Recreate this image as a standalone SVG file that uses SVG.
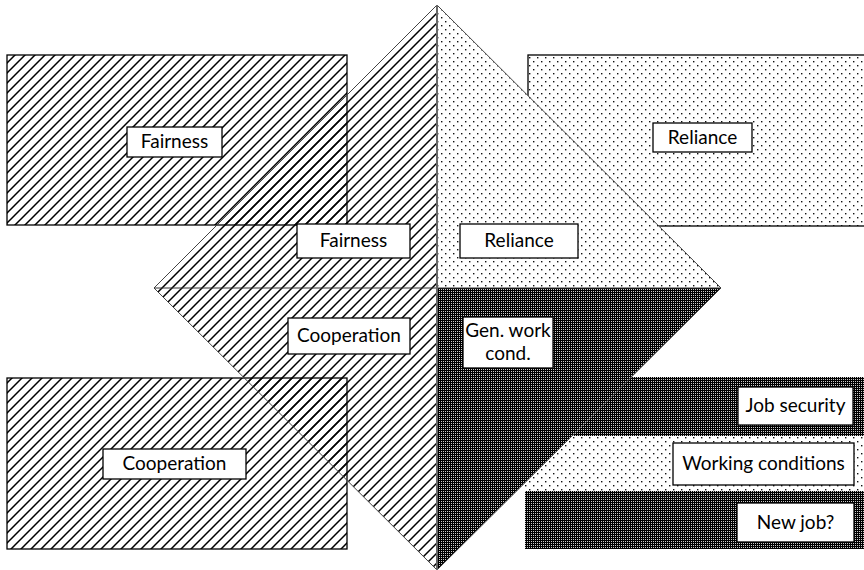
<svg xmlns="http://www.w3.org/2000/svg" width="864" height="570" viewBox="0 0 864 570">
<defs>
<pattern id="hatch" patternUnits="userSpaceOnUse" width="10" height="10">
<path d="M-2,2 L2,-2 M0,10 L10,0 M8,12 L12,8" stroke="#000" stroke-width="1.5"/>
</pattern>
<pattern id="dots" patternUnits="userSpaceOnUse" width="8" height="8">
<rect x="0" y="0" width="8" height="8" fill="#fff"/>
<rect x="1" y="1" width="1.4" height="1.4" fill="#111"/>
<rect x="5" y="5" width="1.4" height="1.4" fill="#111"/>
</pattern>
<pattern id="dark" patternUnits="userSpaceOnUse" width="2" height="2">
<rect x="0" y="0" width="2" height="2" fill="#000"/>
<rect x="1" y="1" width="1" height="1" fill="#ccc"/>
</pattern>
</defs>
<style>
.box{fill:#fff;stroke:#000;stroke-width:1.3}
.lbl{font-family:Lato,"Liberation Sans",sans-serif;font-size:19px;fill:#000;text-anchor:middle}
.area{stroke:#000;stroke-width:1.3}
</style>
<rect width="864" height="570" fill="#fff"/>

<g id="area-fairness">
<rect class="area" x="7" y="55" width="340" height="170" fill="url(#hatch)"/>
</g>
<g id="area-reliance">
<rect class="area" x="528" y="55" width="340" height="171" fill="url(#dots)"/>
</g>
<g id="area-cooperation">
<rect class="area" x="7" y="378" width="340" height="171" fill="url(#hatch)"/>
</g>
<g id="bar-job-security">
<rect x="525" y="377" width="345" height="59" fill="url(#dark)"/>
</g>
<g id="bar-working-conditions">
<rect x="525" y="436" width="345" height="55" fill="url(#dots)"/>
</g>
<g id="bar-new-job">
<rect x="525" y="491" width="345" height="58" fill="url(#dark)"/>
</g>

<g id="diamond">
<polygon points="437,5 154,288 437,570" fill="url(#hatch)"/>
<polygon points="437,5 721,288 437,288" fill="url(#dots)"/>
<polygon points="437,288 721,288 437,570" fill="url(#dark)"/>
</g>
<g id="connectors">
<polygon points="437,5 721,288 437,570 154,288" fill="none" stroke="#444" stroke-width="1"/>
<line x1="154" y1="288" x2="721" y2="288" stroke="#333" stroke-width="1"/>
<line x1="437" y1="5" x2="437" y2="570" stroke="#666" stroke-width="2"/>
</g>

<g id="label-fairness-outer">
<rect class="box" x="127" y="127" width="95" height="30"/>
<text class="lbl" x="174.5" y="148">Fairness</text>
</g>
<g id="label-reliance-outer">
<rect class="box" x="653" y="123" width="99" height="29"/>
<text class="lbl" x="702.5" y="144">Reliance</text>
</g>
<g id="label-fairness-inner">
<rect class="box" x="297" y="224" width="113" height="34"/>
<text class="lbl" x="353.5" y="247">Fairness</text>
</g>
<g id="label-reliance-inner">
<rect class="box" x="460" y="224" width="118" height="34"/>
<text class="lbl" x="519" y="247">Reliance</text>
</g>
<g id="label-cooperation-inner">
<rect class="box" x="288" y="318" width="122" height="36"/>
<text class="lbl" x="349" y="342">Cooperation</text>
</g>
<g id="label-gen-work-cond">
<rect class="box" x="463" y="317" width="90" height="51"/>
<text class="lbl" x="508" y="337">Gen. work</text>
<text class="lbl" x="508" y="360">cond.</text>
</g>
<g id="label-cooperation-outer">
<rect class="box" x="103" y="449" width="143" height="30"/>
<text class="lbl" x="174.5" y="470">Cooperation</text>
</g>
<g id="label-job-security">
<rect class="box" x="738" y="387" width="115" height="38"/>
<text class="lbl" x="795.5" y="412">Job security</text>
</g>
<g id="label-working-conditions">
<rect class="box" x="673" y="443" width="181" height="42"/>
<text class="lbl" x="763.5" y="470">Working conditions</text>
</g>
<g id="label-new-job">
<rect class="box" x="737" y="503" width="117" height="39"/>
<text class="lbl" x="795.5" y="529">New job?</text>
</g>
</svg>
